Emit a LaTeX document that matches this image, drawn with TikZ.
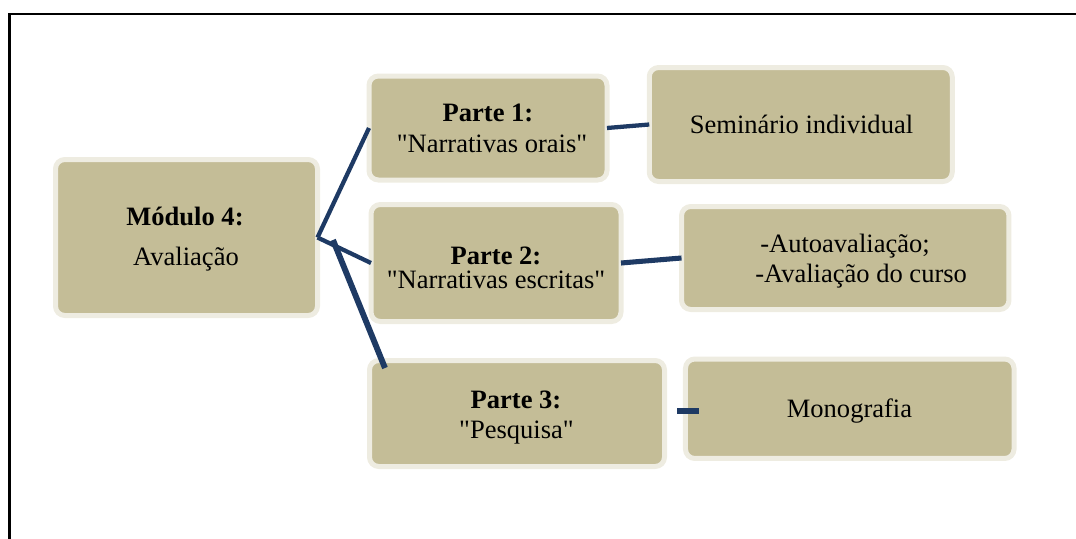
\documentclass[tikz,border=0pt]{standalone}
\usepackage{fontspec}
\setmainfont{Liberation Serif}[Ligatures=TeXOff]
\definecolor{boxfill}{HTML}{C4BD97}
\definecolor{boxrim}{HTML}{EEECE1}
\definecolor{linkblue}{HTML}{1E3A64}
\tikzset{
  card/.style={rectangle, rounded corners=7pt, fill=boxfill, draw=boxrim,
    line width=3.75pt, inner sep=0pt, outer sep=0pt},
  txt/.style={anchor=base, inner sep=0pt, font=\fontsize{19.9}{24}\selectfont},
  txtl/.style={txt, anchor=base west},
  link/.style={draw=linkblue, line width=3.2pt},
  thicklink/.style={draw=linkblue, line width=4.4pt},
}
\begin{document}
\begin{tikzpicture}[x=0.75pt,y=-0.75pt]
\useasboundingbox (0,0) rectangle (1076,539);

% outer frame (top and left edges)
\draw[line width=2.1pt] (9.7,539) -- (9.7,14) -- (1076,14);

% boxes
\node[card, minimum width=196.5pt, minimum height=117pt] (mod) at (186.5,237.5) {};
\node[card, minimum width=178.5pt, minimum height=78pt] (p1) at (488,128) {};
\node[card, minimum width=187.5pt, minimum height=87.75pt] (p2) at (496,263) {};
\node[card, minimum width=221.25pt, minimum height=79.5pt] (p3) at (517,413.5) {};
\node[card, minimum width=227.25pt, minimum height=85.5pt] (sem) at (800.75,124.5) {};
\node[card, minimum width=245.6pt, minimum height=77.25pt] (auto) at (845.25,258) {};
\node[card, minimum width=246.4pt, minimum height=74.6pt] (mono) at (849.75,408.75) {};

% box texts
\node[txt] (modA) at (185,225) {\bfseries Módulo 4:};
\node[txt] (modB) at (186,265) {Avaliação};
\node[txt] (p1A) at (488,121) {\bfseries Parte 1:};
\node[txt] (p1B) at (492,152) {"Narrativas orais"};
\node[txt] (p2A) at (496,264) {\bfseries Parte 2:};
\node[txt] (p2B) at (496,288) {"Narrativas escritas"};
\node[txt] (p3A) at (516,408) {\bfseries Parte 3:};
\node[txt] (p3B) at (516.5,438) {"Pesquisa"};
\node[txt] (semA) at (801.5,133) {Seminário individual};
\node[txtl] (autoA) at (760,252) {-Autoavaliação;};
\node[txtl] (autoB) at (755,282) {-Avaliação do curso};
\node[txt] (monoA) at (849.5,417) {Monografia};

% connectors
\coordinate (p3top) at (333,240);
\coordinate (p3end) at (385,368);
\coordinate (stubA) at (677,411);
\coordinate (stubB) at (699,411);
\draw[link] (mod.east) -- (p1.west);
\draw[link] (mod.east) -- (p2.west);
\draw[thicklink] (p3top) -- (p3end);
\draw[link] (p1.east) -- (sem.west);
\draw[link, line width=3.8pt] (p2.east) -- (auto.west);
\draw[link, line width=4.2pt] (stubA) -- (stubB);
\end{tikzpicture}
\end{document}
